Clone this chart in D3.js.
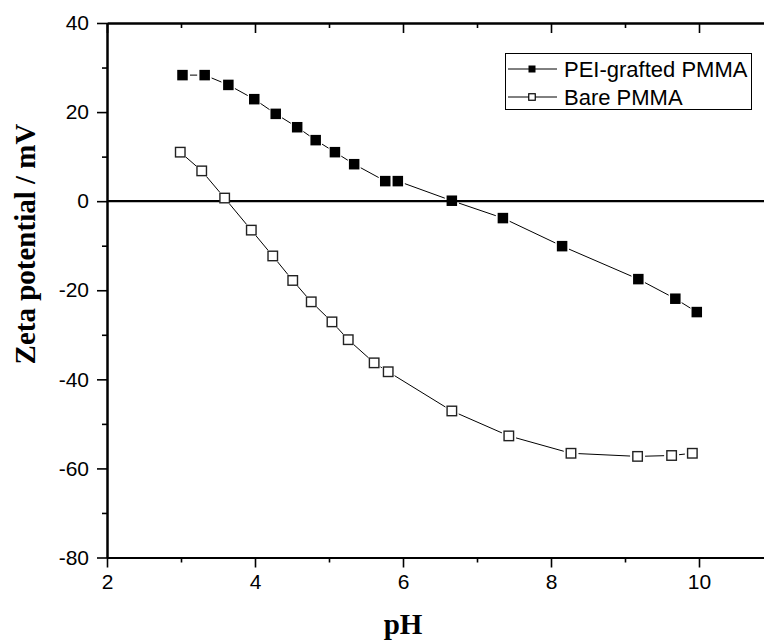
<!DOCTYPE html>
<html>
<head>
<meta charset="utf-8">
<script src="https://cdn.jsdelivr.net/npm/d3@7"></script>
<style>
  body { margin: 0; background: #fff; }
  .tick text { font-family: "Liberation Sans", Arial, sans-serif; font-size: 21px; fill: #000; }
  .title { font-family: "Liberation Serif", "Times New Roman", serif; font-weight: bold; font-size: 29px; }
  .leg { font-family: "Liberation Sans", Arial, sans-serif; font-size: 22px; }
</style>
</head>
<body>
<div id="container"></div>
<script>
/* CONSTANTS AND GLOBALS */
const width = 764;
const height = 640;

// DATA
const pei_pH   = [3.02, 3.32, 3.64, 3.99, 4.28, 4.57, 4.82, 5.08, 5.34, 5.76, 5.93, 6.66, 7.35, 8.15, 9.18, 9.68, 9.97];
const pei_zeta = [28.3, 28.3, 26.1, 22.9, 19.6, 16.6, 13.7, 11.0, 8.3, 4.5, 4.5, 0.1, -3.8, -10.1, -17.5, -21.9, -24.9];

const bare_pH   = [2.99, 3.28, 3.59, 3.95, 4.24, 4.51, 4.76, 5.04, 5.26, 5.61, 5.80, 6.66, 7.43, 8.27, 9.17, 9.63, 9.91];
const bare_zeta = [11.0, 6.8, 0.7, -6.5, -12.3, -17.8, -22.6, -27.1, -31.1, -36.3, -38.3, -47.1, -52.7, -56.6, -57.3, -57.1, -56.6];

const xMajor = [2, 4, 6, 8, 10];
const xMinor = [3, 5, 7, 9];
const yMajor = [-80, -60, -40, -20, 0, 20, 40];
const yMinor = [-70, -50, -30, -10, 10, 30];

const seriesNames = ["PEI-grafted PMMA", "Bare PMMA"];

// SCALES
const x = d3.scaleLinear().domain([2, 11]).range([107, 773]);
const y = d3.scaleLinear().domain([-80, 40]).range([557.5, 23]);

// CREATE SVG ELEMENT
const svg = d3.select("#container")
  .append("svg")
    .attr("width", width)
    .attr("height", height);

// BUILD AND CALL AXES
function styleAxis(g) {
  g.select(".domain").attr("stroke", "#000").attr("stroke-width", 2);
  g.selectAll(".tick line").attr("stroke", "#000").attr("stroke-width", 1.6);
}
const plain = d => String(d);   // hyphen minus, like the original

svg.append("g")
  .attr("transform", "translate(0," + y(-80) + ")")
  .call(d3.axisBottom(x).tickValues(xMinor).tickSize(5).tickFormat("").tickSizeOuter(0))
  .call(styleAxis);
svg.append("g")
  .attr("transform", "translate(0," + y(-80) + ")")
  .call(d3.axisBottom(x).tickValues(xMajor).tickSize(10).tickPadding(7).tickFormat(plain).tickSizeOuter(0))
  .call(styleAxis);

svg.append("g")
  .attr("transform", "translate(0," + y(40) + ")")
  .call(d3.axisTop(x).tickValues(xMinor).tickSize(-5).tickFormat("").tickSizeOuter(0))
  .call(styleAxis);
svg.append("g")
  .attr("transform", "translate(0," + y(40) + ")")
  .call(d3.axisTop(x).tickValues(xMajor).tickSize(-10).tickFormat("").tickSizeOuter(0))
  .call(styleAxis);

svg.append("g")
  .attr("transform", "translate(" + x(2) + ",0)")
  .call(d3.axisLeft(y).tickValues(yMinor).tickSize(5).tickFormat("").tickSizeOuter(0))
  .call(styleAxis);
svg.append("g")
  .attr("transform", "translate(" + x(2) + ",0)")
  .call(d3.axisLeft(y).tickValues(yMajor).tickSize(10).tickPadding(8).tickFormat(plain).tickSizeOuter(0))
  .call(styleAxis);

// zero line
svg.append("line")
  .attr("x1", x(2)).attr("x2", x(11))
  .attr("y1", y(0)).attr("y2", y(0))
  .attr("stroke", "#000").attr("stroke-width", 2.2);

// axis titles
svg.append("text")
  .attr("class", "title")
  .attr("text-anchor", "middle")
  .attr("x", x(6))
  .attr("y", 634)
  .text("pH");

svg.append("text")
  .attr("class", "title")
  .attr("text-anchor", "middle")
  .attr("transform", "translate(35,244) rotate(-90)")
  .text("Zeta potential / mV");

// LINE with small gaps at the markers
function gappedPath(xs, ys, gap) {
  let d = "";
  for (let i = 0; i < xs.length - 1; i++) {
    const x0 = x(xs[i]), y0 = y(ys[i]), x1 = x(xs[i + 1]), y1 = y(ys[i + 1]);
    const len = Math.hypot(x1 - x0, y1 - y0);
    if (len <= 2 * gap) continue;
    const ux = (x1 - x0) / len, uy = (y1 - y0) / len;
    d += "M" + (x0 + ux * gap) + "," + (y0 + uy * gap) + "L" + (x1 - ux * gap) + "," + (y1 - uy * gap);
  }
  return d;
}

svg.append("path")
  .attr("d", gappedPath(pei_pH, pei_zeta, 7.5))
  .attr("fill", "none").attr("stroke", "#000").attr("stroke-width", 1);
svg.append("path")
  .attr("d", gappedPath(bare_pH, bare_zeta, 7.5))
  .attr("fill", "none").attr("stroke", "#000").attr("stroke-width", 1);

// DRAW MARKERS
const ms = 10.5;
svg.append("g").selectAll("rect")
  .data(pei_pH.map((p, i) => [p, pei_zeta[i]]))
  .join("rect")
    .attr("x", d => x(d[0]) - ms / 2)
    .attr("y", d => y(d[1]) - ms / 2)
    .attr("width", ms).attr("height", ms)
    .attr("fill", "#000");

const mo = 9.5;
svg.append("g").selectAll("rect")
  .data(bare_pH.map((p, i) => [p, bare_zeta[i]]))
  .join("rect")
    .attr("x", d => x(d[0]) - mo / 2)
    .attr("y", d => y(d[1]) - mo / 2)
    .attr("width", mo).attr("height", mo)
    .attr("fill", "#fff")
    .attr("stroke", "#222").attr("stroke-width", 1.4);

// LEGEND
const leg = svg.append("g");
leg.append("rect")
  .attr("x", 505.5).attr("y", 53.5)
  .attr("width", 246).attr("height", 56)
  .attr("fill", "#fff").attr("stroke", "#000").attr("stroke-width", 1);

const rows = [69, 97];
seriesNames.forEach((name, i) => {
  const cy = rows[i];
  leg.append("line")
    .attr("x1", 508).attr("x2", 557).attr("y1", cy).attr("y2", cy)
    .attr("stroke", "#000").attr("stroke-width", 1);
  const s = i === 0 ? 7 : 6.5;
  leg.append("rect")
    .attr("x", 532 - s / 2).attr("y", cy - s / 2)
    .attr("width", s).attr("height", s)
    .attr("fill", i === 0 ? "#000" : "#fff")
    .attr("stroke", "#000").attr("stroke-width", i === 0 ? 0 : 1.2);
  leg.append("text")
    .attr("class", "leg")
    .attr("x", 564)
    .attr("y", cy + 8)
    .text(name);
});
</script>
</body>
</html>
